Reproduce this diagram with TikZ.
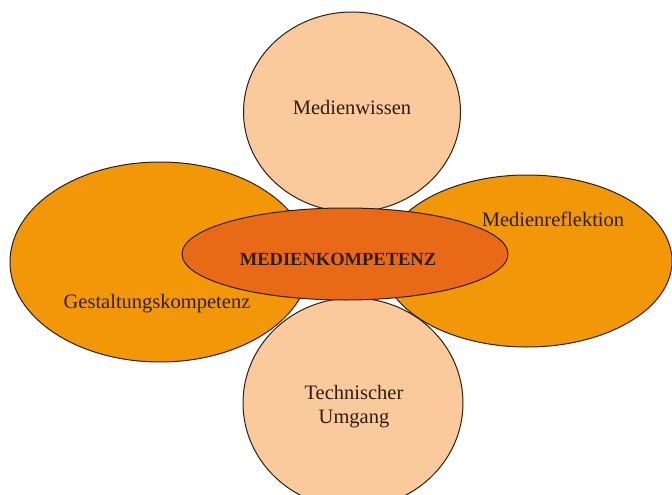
\documentclass[tikz,border=0pt]{standalone}
\usepackage{fontspec}
\setmainfont{Liberation Serif}
\usetikzlibrary{shapes.geometric}

\definecolor{peach}{RGB}{250,201,156}
\definecolor{amber}{RGB}{242,152,8}
\definecolor{rust}{RGB}{233,106,22}
\definecolor{inkbrown}{RGB}{45,30,20}

\begin{document}
\begin{tikzpicture}[x=1pt,y=-1pt,
        blob/.style={ellipse, draw=inkbrown, line width=1pt, inner sep=0pt},
        lbl/.style={text=inkbrown, font=\fontsize{20.5}{24}\selectfont, align=center}]
        \useasboundingbox (0,0) rectangle (672,495);

        % Side ellipses
        \node[blob, fill=amber, minimum width=300pt, minimum height=200pt] (gestalt) at (160,262) {};
        \node[blob, fill=amber, minimum width=290pt, minimum height=172pt] (reflex) at (527,261) {};

        % Upper and lower circles
        \node[blob, fill=peach, minimum width=217pt, minimum height=200pt] (wissen) at (352,112) {};
        \node[blob, fill=peach, minimum width=220pt, minimum height=210pt] (technik) at (353,403) {};

        % Core
        \node[blob, fill=rust, minimum width=326pt, minimum height=92pt] (kompetenz) at (345,254) {};

        % Labels
        \node[lbl] (wissenlbl) at (352,107) {Medienwissen};
        \node[lbl] (reflexlbl) at (553,219) {Medienreflektion};
        \node[lbl] (gestaltlbl) at (157,304) {Gestaltungskompetenz};
        \node[lbl] (techniklbl) at (354,407) {Technischer\\Umgang};
        \node[lbl, font=\fontsize{18.5}{22}\selectfont\bfseries] (kompetenzlbl) at (338,259) {MEDIENKOMPETENZ};
\end{tikzpicture}
\end{document}
